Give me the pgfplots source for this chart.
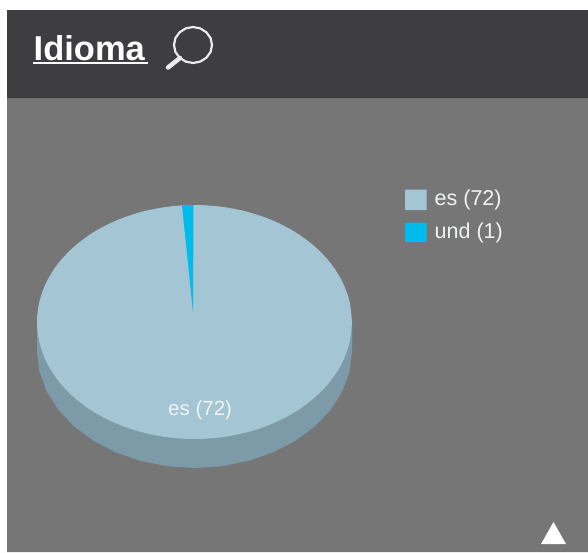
\documentclass[border=0pt]{standalone}
\usepackage{pgfplots}
\pgfplotsset{compat=1.18}
\usepackage{fontspec}
\setmainfont{Liberation Sans}
\definecolor{hdr}{HTML}{3E3D40}
\definecolor{body}{HTML}{767676}
\definecolor{piec}{HTML}{A4C5D3}
\definecolor{side}{HTML}{7C9AA8}
\definecolor{undc}{HTML}{00BCEC}
\definecolor{lab}{HTML}{F0F3F4}
\begin{document}
\begin{tikzpicture}
\begin{axis}[
  width=588pt,height=552pt,scale only axis,
  xmin=0,xmax=588,ymin=0,ymax=552,y dir=reverse,
  hide axis,clip=true,no markers
]
% page
\addplot[fill=white,draw=none] coordinates {(0,0) (588,0) (588,552) (0,552) (0,0)};
% panel
\addplot[fill=body,draw=none] coordinates {(7,98) (588,98) (588,552) (7,552) (7,98)};
\addplot[fill=hdr,draw=none] coordinates {(7,10) (588,10) (588,98) (7,98) (7,10)};
% side of the pie
\addplot[fill=side,draw=none] coordinates {
(352,322) (352,351) (349.6,371.3) (342.5,391) (330.9,409.5) (315.1,426.2) (295.7,440.6) (273.25,452.3) (248.4,460.9) (221.8,466.2) (194.5,468)
(167.2,466.2) (140.6,460.9) (115.75,452.3) (93.3,440.6) (73.9,426.2) (58.1,409.5) (46.5,391) (39.4,371.3) (37,351) (37,322) (352,322)};
% es (72)
\addplot[fill=piec,draw=none,smooth,tension=0.55] coordinates {
(352,322) (349.6,342.3) (342.5,362) (330.9,380.5) (315.1,397.2) (295.7,411.6) (273.25,423.3) (248.4,431.9) (221.8,437.2) (194.5,439)
(167.2,437.2) (140.6,431.9) (115.75,423.3) (93.3,411.6) (73.9,397.2) (58.1,380.5) (46.5,362) (39.4,342.3) (37,322)
(39.4,301.7) (46.5,282) (58.1,263.5) (73.9,246.8) (93.3,232.4) (115.75,220.7) (140.6,212.1) (167.2,206.8) (194.5,205)
(221.8,206.8) (248.4,212.1) (273.25,220.7) (295.7,232.4) (315.1,246.8) (330.9,263.5) (342.5,282) (349.6,301.7) (352,322)};
% und (1)
\addplot[fill=undc,draw=none] coordinates {(193,312) (182,205.3) (193.5,205) (193,312)};
% legend swatches
\addplot[fill=piec,draw=none] coordinates {(405,189.5) (426.5,189.5) (426.5,210) (405,210) (405,189.5)};
\addplot[fill=undc,draw=none] coordinates {(405,222.5) (426.5,222.5) (426.5,242) (405,242) (405,222.5)};
% underline, magnifier, arrow
\addplot[draw=white,line width=2pt] coordinates {(33,62.5) (147.5,62.5)};
\addplot[draw=white!92!black,line width=2.2pt,line join=round] coordinates {(212,45) (210.6,51.9) (206.4,57.7) (200.3,61.6) (193,63) (185.7,61.6) (179.6,57.7) (175.4,51.9) (174,45) (175.4,38.1) (179.6,32.3) (185.7,28.4) (193,27) (200.3,28.4) (206.4,32.3) (210.6,38.1) (212,45) (210.6,51.9)};
\addplot[draw=white!92!black,line width=4.5pt,line cap=round] coordinates {(180,58) (168,67.5)};
\addplot[fill=white,draw=none] coordinates {(553.5,522) (566,544) (541,544) (553.5,522)};
% texts
\node[anchor=base west,inner sep=0pt,text=white,font=\fontsize{34.5}{35}\selectfont\bfseries] at (axis cs:33.5,60.5) {Idioma};
\node[anchor=base west,inner sep=0pt,text=lab,font=\fontsize{21.5}{22}\selectfont] at (axis cs:434.5,205.5) {es (72)};
\node[anchor=base west,inner sep=0pt,text=lab,font=\fontsize{21.5}{22}\selectfont] at (axis cs:434.5,238.5) {und (1)};
\node[anchor=base west,inner sep=0pt,text=lab,font=\fontsize{20.5}{21}\selectfont] at (axis cs:168,415) {es (72)};
\end{axis}
\end{tikzpicture}
\end{document}
